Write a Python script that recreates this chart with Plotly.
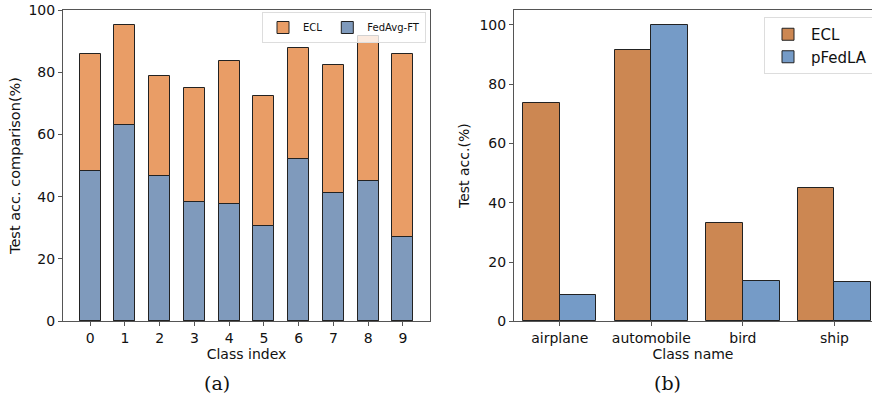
import plotly.graph_objects as go

# ---- data ----
class_index = [0, 1, 2, 3, 4, 5, 6, 7, 8, 9]
ecl_a = [85.9, 95.2, 78.8, 75.0, 83.7, 72.3, 87.7, 82.4, 91.7, 85.9]
fedavg_ft = [48.2, 63.0, 46.6, 38.3, 37.7, 30.4, 52.1, 41.1, 45.1, 27.0]

class_names = ["airplane", "automobile", "bird", "ship"]
ecl_b = [73.5, 91.4, 33.0, 44.9]
pfedla = [8.8, 99.9, 13.7, 13.4]

W, H = 872, 403

def fx(a):
    return a / W
def fy(y):
    return (H - y) / H
def px_x(a, b):
    return [fx(a), fx(b)]
def px_y(top, bottom):
    return [fy(bottom), fy(top)]

fig = go.Figure()

line_style = dict(color="#222222", width=1)

fig.add_trace(go.Bar(x=class_index, y=ecl_a, name="ECL", width=0.6,
                     marker=dict(color="#E99D66", line=line_style),
                     xaxis="x", yaxis="y", legend="legend"))
fig.add_trace(go.Bar(x=class_index, y=fedavg_ft, name="FedAvg-FT", width=0.6,
                     marker=dict(color="#7F9ABC", line=line_style),
                     xaxis="x", yaxis="y", legend="legend"))

fig.add_trace(go.Bar(x=class_names, y=ecl_b, name="ECL", width=0.4, offset=-0.4,
                     marker=dict(color="#CC8752", line=line_style),
                     xaxis="x2", yaxis="y2", legend="legend2"))
fig.add_trace(go.Bar(x=class_names, y=pfedla, name="pFedLA", width=0.4, offset=0.0,
                     marker=dict(color="#759BC7", line=line_style),
                     xaxis="x2", yaxis="y2", legend="legend2"))

tickfont = dict(family="DejaVu Sans", size=14, color="#111111")
titlefont = dict(family="DejaVu Sans", size=14, color="#111111")
frame = "#555555"

common = dict(showline=True, linecolor=frame, linewidth=1, ticks="outside", ticklen=4,
              tickcolor=frame, showgrid=False, zeroline=False, tickfont=tickfont,
              automargin=False, ticklabeloverflow="allow")

fig.update_layout(
    width=W, height=H,
    margin=dict(l=0, r=0, t=0, b=0, autoexpand=False),
    paper_bgcolor="white", plot_bgcolor="white",
    barmode="overlay",
    bargap=0,
    xaxis=dict(domain=px_x(63, 430), range=[-0.78, 9.78], tickmode="array",
               tickvals=class_index, ticktext=[str(c) for c in class_index],
               mirror=True,
               title=dict(text="Class index", font=titlefont, standoff=4),
               anchor="y", **common),
    yaxis=dict(domain=px_y(10, 321), range=[0, 100], tickmode="array",
               tickvals=[0, 20, 40, 60, 80, 100], mirror=True,
               title=dict(text="Test acc. comparison(%)",
                          font=dict(family="DejaVu Sans", size=14.5, color="#111111"),
                          standoff=4),
               anchor="x", **common),
    xaxis2=dict(domain=px_x(514, 872), range=[-0.5, 3.41], mirror=True,
                title=dict(text="Class name", font=titlefont, standoff=4),
                anchor="y2", **common),
    yaxis2=dict(domain=px_y(10, 321.3), range=[0, 105], dtick=20, mirror=False,
                title=dict(text="Test acc.(%)", font=titlefont, standoff=6),
                anchor="x2", **common),
    legend=dict(orientation="h", x=fx(426), xanchor="right", y=fy(12), yanchor="top",
                font=dict(family="DejaVu Sans", size=10, color="#111111"),
                bgcolor="rgba(255,255,255,0.8)", bordercolor="#dddddd", borderwidth=1,
                itemwidth=30, tracegroupgap=0),
    legend2=dict(orientation="v", x=fx(764), xanchor="left", y=fy(17), yanchor="top",
                 font=dict(family="DejaVu Sans", size=15, color="#111111"),
                 bgcolor="rgba(255,255,255,0.8)", bordercolor="#dddddd", borderwidth=1,
                 itemwidth=36, tracegroupgap=0),
    annotations=[
        dict(text="(a)", x=fx(217), y=fy(383), xref="paper", yref="paper",
             xanchor="center", yanchor="middle",
             showarrow=False, font=dict(family="DejaVu Serif", size=19, color="#111111")),
        dict(text="(b)", x=fx(667), y=fy(383), xref="paper", yref="paper",
             xanchor="center", yanchor="middle",
             showarrow=False, font=dict(family="DejaVu Serif", size=19, color="#111111")),
    ],
)

fig.write_html("out.html", config={"displayModeBar": False},
               post_script="document.body.style.margin='0';document.body.style.overflow='hidden';")
